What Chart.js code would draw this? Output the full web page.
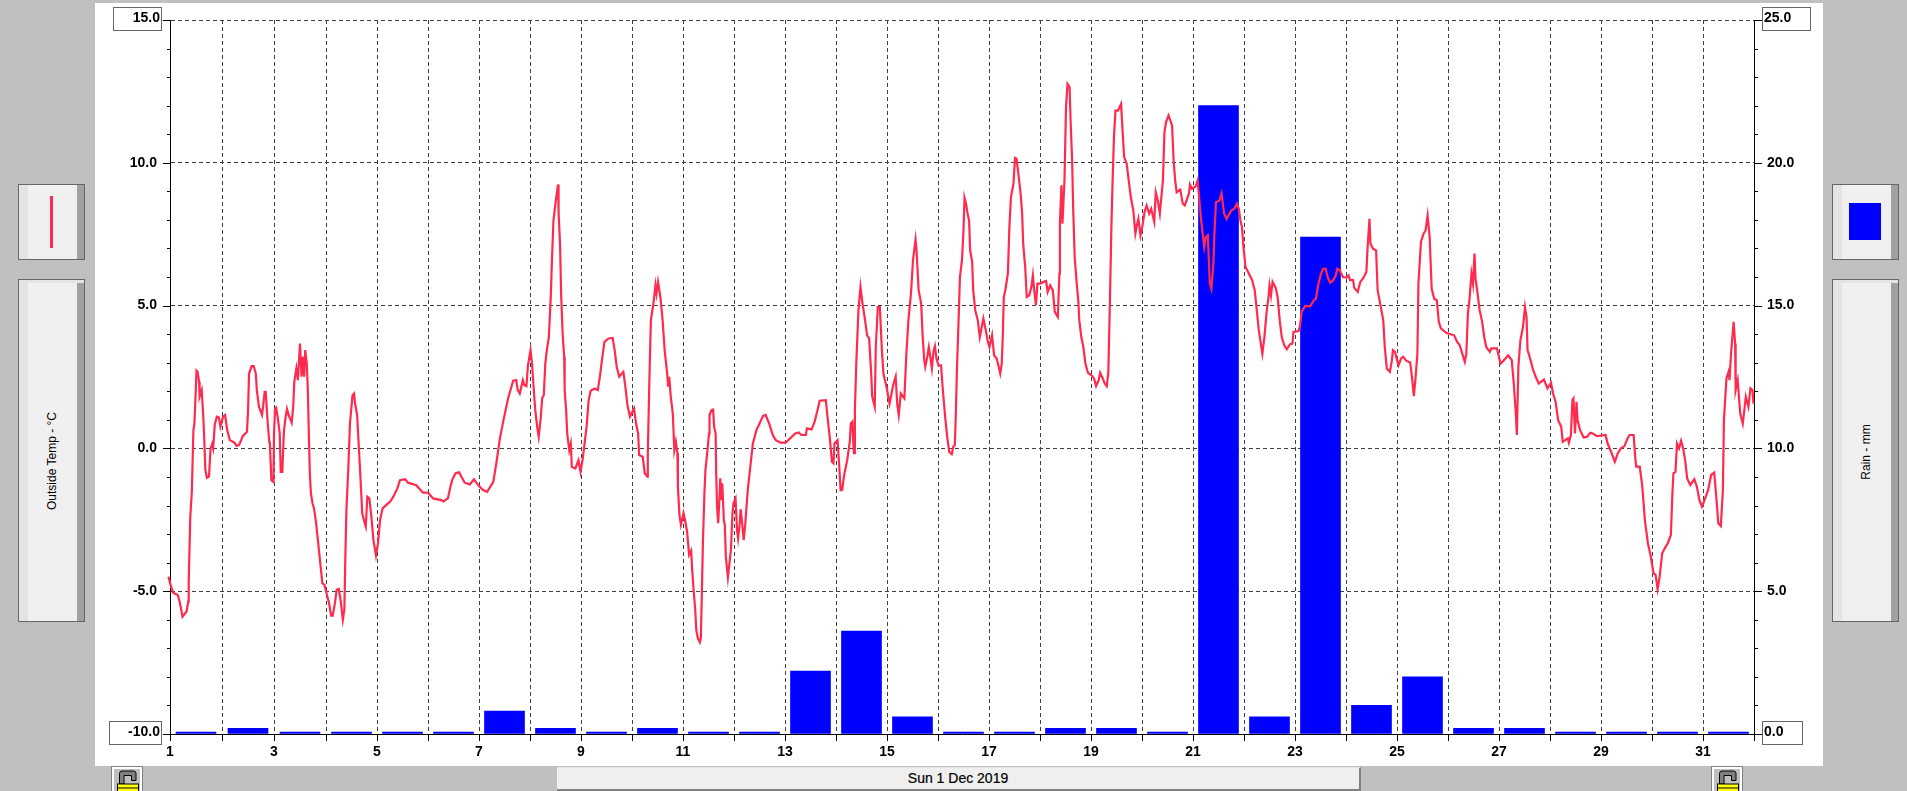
<!DOCTYPE html>
<html><head><meta charset="utf-8"><title>Outside Temp and Rain, December 2019</title>
<script src="https://cdn.jsdelivr.net/npm/chart.js@4/dist/chart.umd.js"></script>
<style>
html,body{margin:0;padding:0;width:1907px;height:791px;overflow:hidden;background:#c0c0c0;font-family:"Liberation Sans",Arial,sans-serif;color:#000}
.abs{position:absolute;box-sizing:border-box}
#panel{left:95px;top:3px;width:1728px;height:763px;background:#fff}
canvas{position:absolute;left:0;top:0}
.btn{background:#f0f0f0;border:1px solid #666}
.btn i{position:absolute;top:0;bottom:0;display:block}
.lightL{left:0;width:9px;background:#e4e4e4}
.darkR{right:0;width:7px;background:#a0a0a0}
.strip{left:0;right:0;top:0;height:3px;background:#e4e4e4;position:absolute}
.side{position:absolute;white-space:nowrap;font-size:12px;transform:translate(-50%,-50%) rotate(-90deg)}
.box{border:1px solid #666;height:24px}
.limit{position:absolute;font:bold 14px "Liberation Sans",Arial,sans-serif;line-height:14px;white-space:nowrap}
#date{left:557px;top:767px;width:804px;height:24px;background:#efefef;border-top:1px solid #e4e4e4;border-right:2px solid #808080;border-bottom:2px solid #808080;text-align:center;font-size:14px;line-height:21px;-webkit-text-stroke:.2px #000}
</style></head><body>
<div class="abs" id="panel"></div>

<div class="abs btn" style="left:18px;top:184px;width:67px;height:76px"><i class="lightL"></i><i class="darkR"></i>
  <div class="abs" id="tempSwatch" style="left:31px;top:11px;width:3px;height:52px"></div></div>
<div class="abs btn" style="left:18px;top:279px;width:67px;height:343px"><i class="lightL"></i><i class="darkR"></i><div class="strip"></div>
  <div class="side" style="left:33px;top:181px" id="tempTitle"></div></div>

<div class="abs btn" style="left:1832px;top:184px;width:67px;height:76px"><i class="lightL"></i><i class="darkR"></i>
  <div class="abs" style="left:16px;top:18px;width:32px;height:37px;background:#0000ff"></div></div>
<div class="abs btn" style="left:1832px;top:279px;width:67px;height:343px"><i class="lightL"></i><i class="darkR"></i><div class="strip"></div>
  <div class="side" style="left:33px;top:172px" id="rainTitle"></div></div>

<div class="abs" id="date"></div>

<svg class="abs" style="left:111px;top:766px" width="33" height="25" viewBox="0 0 33 25">
  <rect x=".5" y=".5" width="31" height="26" fill="#fff" stroke="#808080"/>
  <rect x="3" y="3" width="26" height="24" fill="#c0c0c0"/>
  <path d="M8.500 18V7.500Q8.500 5 11 5H22.500Q25 5 25 7.500V14.500H20.500V9.500H13V18Z" fill="#808080" stroke="#000" stroke-width="1"/>
  <rect x="6.500" y="18" width="21" height="8" fill="#ffff00" stroke="#000"/><rect x="7" y="21.500" width="20" height="1" fill="#000"/>
</svg>
<svg class="abs" style="left:1711px;top:766px" width="33" height="25" viewBox="0 0 33 25">
  <rect x=".5" y=".5" width="31" height="26" fill="#fff" stroke="#808080"/>
  <rect x="3" y="3" width="26" height="24" fill="#c0c0c0"/>
  <path d="M8.500 18V7.500Q8.500 5 11 5H22.500Q25 5 25 7.500V14.500H20.500V9.500H13V18Z" fill="#808080" stroke="#000" stroke-width="1"/>
  <rect x="6.500" y="18" width="21" height="8" fill="#ffff00" stroke="#000"/><rect x="7" y="21.500" width="20" height="1" fill="#000"/>
</svg>

<canvas id="c" width="1907" height="791"></canvas>

<div class="abs box" style="left:113px;top:7px;width:49px"></div>
<div class="abs box" style="left:109px;top:721px;width:53px"></div>
<div class="abs box" style="left:1762px;top:7px;width:49px"></div>
<div class="abs box" style="left:1762px;top:721px;width:41px"></div>
<div class="limit" id="tempTop" style="right:1747px;top:10px"></div>
<div class="limit" id="tempBottom" style="right:1747px;top:724px"></div>
<div class="limit" id="rainTop" style="left:1764px;top:10px"></div>
<div class="limit" id="rainBottom" style="left:1764px;top:724px"></div>

<script>
// ---- values ----
const dateLabel = "Sun 1 Dec 2019";
const tempTitle = "Outside Temp - °C";
const rainTitle = "Rain - mm";
const tempRange = [-10, 15];
const rainRange = [0, 25];
const dayRange = [1, 32];
const tempLabelled = [-5, 0, 5, 10];
const rainLabelled = [5, 10, 15, 20];
const tempColor = "#ff2a4d";
const rainColor = "#0000ff";

const rainDays = [1,2,3,4,5,6,7,8,9,10,11,12,13,14,15,16,17,18,19,20,21,22,23,24,25,26,27,28,29,30,31];
const rainValues = [0,0.2,0,0,0,0,0.8,0.2,0,0.2,0,0,2.2,3.6,0.6,0,0,0.2,0.2,0,22,0.6,17.4,1,2,0.2,0.2,0,0,0,0];

const tempDays = [
0.97,1.02,1.06,1.15,1.19,1.24,1.32,1.35,1.36,1.39,1.42,1.45,1.47,1.51,1.53,1.56,1.57,1.61,1.64,1.66,1.68,1.71,1.75,1.78,1.81,1.83,1.86,1.90,1.94,
1.97,2.02,2.06,2.10,2.15,2.24,2.28,2.33,2.40,2.48,2.50,2.52,2.57,2.61,2.65,2.67,2.71,2.77,2.79,2.82,2.84,2.88,2.91,2.92,2.95,2.99,3.00,3.02,3.04,3.07,3.11,3.13,3.16,3.19,3.22,3.25,3.28,3.34,3.37,3.39,3.43,3.46,3.50,3.53,3.55,3.58,3.60,3.63,3.65,3.67,3.69,3.71,3.74,3.77,3.81,3.85,3.89,3.93,
3.97,4.01,4.06,4.10,4.13,4.17,4.21,4.25,4.29,4.33,4.36,4.38,4.40,4.44,4.47,4.49,4.52,4.55,4.57,4.61,4.64,4.68,4.71,4.75,4.78,4.81,4.85,4.89,4.93,4.98,5.02,5.06,5.11,5.19,5.26,5.32,5.40,5.45,5.55,5.61,5.77,5.90,6.00,6.10,6.26,6.30,6.39,6.44,6.48,6.54,6.61,6.72,6.82,6.90,7.00,7.08,7.16,7.28,7.34,7.41,7.48,7.57,7.67,7.73,7.76,7.80,7.86,7.89,7.93,7.96,
8.01,8.04,8.07,8.10,8.14,8.17,8.21,8.24,8.27,8.30,8.33,8.37,8.41,8.43,8.46,8.51,8.55,8.56,8.59,8.61,8.64,8.67,8.68,8.71,8.73,8.77,8.80,8.82,8.89,8.95,8.99,
9.03,9.07,9.11,9.15,9.19,9.27,9.33,9.37,9.42,9.46,9.54,9.62,9.66,9.70,9.75,9.83,9.87,9.91,9.96,
10.04,10.08,10.12,10.14,10.21,10.25,10.30,10.31,10.34,10.37,10.42,10.46,10.48,10.51,10.56,10.60,10.64,10.69,10.71,10.73,10.76,10.80,10.83,10.86,10.89,10.90,10.93,10.96,
11.01,11.04,11.08,11.12,11.16,11.18,11.21,11.24,11.26,11.29,11.33,11.35,11.37,11.39,11.42,11.44,11.48,11.51,11.52,11.56,11.59,11.61,11.64,11.65,11.67,11.69,11.72,11.73,11.76,11.77,11.80,11.82,11.84,11.88,11.90,11.94,11.97,11.99,
12.03,12.06,12.08,12.11,12.13,12.16,12.19,12.22,12.24,12.27,12.32,12.37,12.44,12.50,12.57,12.62,12.69,12.76,12.82,12.91,
13.01,13.10,13.20,13.27,13.32,13.41,13.43,13.52,13.58,13.63,13.68,13.80,13.84,13.88,13.92,13.95,13.97,
14.03,14.06,14.09,14.12,14.16,14.22,14.27,14.29,14.32,14.35,14.36,14.37,14.40,14.44,14.48,14.52,14.57,14.61,14.65,14.69,14.71,14.76,14.78,14.82,14.86,14.90,14.93,14.99,
15.05,15.12,15.17,15.20,15.23,15.27,15.34,15.38,15.42,15.47,15.51,15.56,15.58,15.62,15.67,15.70,15.73,15.75,15.79,15.82,15.84,15.88,15.91,15.94,15.97,
16.01,16.06,16.09,16.12,16.14,16.18,16.22,16.27,16.30,16.33,16.35,16.37,16.41,16.43,16.47,16.50,16.52,16.55,16.58,16.61,16.63,16.67,16.69,16.73,16.78,16.82,16.89,16.93,16.98,
17.01,17.06,17.10,17.15,17.19,17.22,17.25,17.27,17.29,17.32,17.37,17.40,17.43,17.48,17.51,17.54,17.58,17.62,17.65,17.67,17.71,17.74,17.79,17.83,17.86,17.88,17.92,17.95,
18.00,18.07,18.12,18.15,18.20,18.25,18.29,18.35,18.38,18.39,18.42,18.44,18.48,18.51,18.54,18.58,18.60,18.63,18.65,18.68,18.72,18.75,18.77,18.81,18.85,18.89,18.94,
19.01,19.06,19.10,19.15,19.18,19.23,19.27,19.31,19.34,19.37,19.40,19.42,19.45,19.48,19.53,19.59,19.62,19.65,19.70,19.74,19.78,19.83,19.87,19.90,19.93,19.97,
20.01,20.05,20.09,20.14,20.18,20.24,20.27,20.31,20.35,20.41,20.44,20.47,20.52,20.59,20.62,20.65,20.68,20.75,20.80,20.84,20.92,20.94,20.98,
21.05,21.09,21.12,21.16,21.22,21.25,21.29,21.33,21.36,21.40,21.42,21.45,21.52,21.56,21.61,21.66,21.75,21.81,21.86,21.90,21.93,21.96,21.99,
22.03,22.08,22.16,22.21,22.25,22.29,22.36,22.40,22.44,22.48,22.50,22.53,22.56,22.62,22.66,22.70,22.74,22.79,22.84,22.90,22.95,22.97,
23.07,23.10,23.13,23.20,23.30,23.37,23.41,23.46,23.51,23.55,23.60,23.64,23.69,23.75,23.80,23.83,23.88,23.94,
24.01,24.05,24.08,24.14,24.16,24.23,24.28,24.33,24.40,24.42,24.46,24.48,24.53,24.59,24.62,24.67,24.73,24.76,24.80,24.86,24.90,24.92,24.96,
25.03,25.08,25.12,25.18,25.26,25.30,25.33,25.36,25.40,25.42,25.47,25.52,25.56,25.60,25.64,25.68,25.73,25.78,25.82,25.86,25.97,
26.12,26.18,26.23,26.28,26.33,26.36,26.39,26.42,26.46,26.49,26.52,26.54,26.58,26.62,26.67,26.71,26.75,26.82,26.85,26.96,
27.03,27.08,27.18,27.25,27.29,27.33,27.35,27.38,27.42,27.47,27.51,27.54,27.56,27.61,27.67,27.72,27.78,27.88,27.95,
28.02,28.06,28.11,28.16,28.22,28.25,28.35,28.37,28.41,28.44,28.46,28.49,28.52,28.54,28.59,28.66,28.73,28.79,28.84,28.92,
29.09,29.13,29.21,29.27,29.33,29.39,29.46,29.51,29.56,29.64,29.67,29.69,29.76,29.81,29.86,29.92,29.97,
30.03,30.07,30.11,30.15,30.20,30.25,30.31,30.37,30.40,30.42,30.46,30.49,30.53,30.57,30.61,30.65,30.69,30.75,30.83,30.88,30.93,30.98,
31.03,31.10,31.16,31.22,31.26,31.30,31.35,31.39,31.41,31.46,31.50,31.52,31.55,31.60,31.63,31.64,31.68,31.73,31.78,31.84,31.89,31.93,31.97,31.99];

const tempValues = [
-4.49,-4.84,-5.05,-5.13,-5.40,-5.89,-5.71,-5.36,-4.66,-2.39,-1.52,0.64,0.87,2.72,2.68,2.33,1.81,2.04,1.11,0.29,-0.76,-1.03,-0.99,0,0.15,0,0.82,1.11,1.08,
0.76,1.11,1.17,0.64,0.29,0.20,0.09,0.12,0.43,0.58,1.28,2.62,2.88,2.88,2.62,2.04,1.46,1.17,1.46,1.98,1.98,0.87,0.23,0.17,-1.11,-1.17,0.47,1.40,1.43,1.11,0.52,-0.82,-0.82,0.58,1.05,1.38,1.17,0.90,1.48,2.33,2.80,2.39,3.67,2.51,3.21,2.51,3.44,2.97,2.10,0.52,-0.93,-1.57,-1.92,-2.10,-2.62,-3.32,-4.02,-4.72,
-4.78,-5.07,-5.42,-5.86,-5.86,-5.48,-4.95,-4.92,-5.36,-6.00,-5.65,-3.73,-2.16,-0.58,0.87,1.28,1.86,1.92,1.57,1.17,0.17,-1.17,-2.27,-2.56,-2.74,-1.69,-1.75,-2.39,-3.21,-3.75,-3.32,-2.51,-2.10,-1.97,-1.86,-1.69,-1.40,-1.11,-1.08,-1.20,-1.29,-1.55,-1.55,-1.75,-1.81,-1.86,-1.75,-1.34,-1.08,-0.87,-0.84,-1.20,-1.26,-1.08,-1.32,-1.46,-1.52,-1.17,-0.52,0.35,0.99,1.75,2.37,2.39,2.04,1.92,2.39,2.21,2.18,2.91,
3.44,2.97,2.16,1.40,0.76,0.41,1.05,1.78,1.86,2.97,3.44,3.90,5.42,6.59,7.98,8.74,9.24,8.28,7.11,5.42,4.02,3.21,2.04,1.28,0.52,-0.06,0.17,-0.64,-0.70,-0.41,-0.82,
-0.41,0.17,0.76,1.69,2.02,2.10,2.04,2.51,3.21,3.73,3.85,3.87,3.44,2.86,2.51,2.68,2.16,1.52,1.11,
1.40,0.87,0.52,-0.23,-0.29,-0.87,-0.99,-0.17,2.33,4.49,5.07,5.71,5.42,5.83,5.24,4.49,3.44,2.62,2.16,2.51,1.81,1.22,-0.06,0.23,-0.17,-1.34,-2.33,-2.68,
-2.27,-2.51,-2.91,-3.73,-3.58,-4.25,-5.01,-5.65,-6.35,-6.64,-6.79,-6.64,-5.07,-3.32,-1.57,-0.76,-0.06,0.52,1.17,1.34,1.36,0.76,0.52,-0.82,-2.10,-2.62,-1.57,-1.05,-1.81,-1.22,-2.51,-2.68,-3.79,-4.52,-4.20,-3.55,-2.27,-1.92,
-1.75,-2.86,-3.15,-2.68,-2.13,-2.62,-3.21,-2.68,-2.16,-1.46,-0.64,0.17,0.64,0.87,1.14,1.17,0.87,0.47,0.29,0.20,
0.20,0.35,0.52,0.56,0.47,0.47,0.70,0.66,0.93,1.28,1.67,1.69,0.99,0.35,-0.47,-0.52,0.17,
0.29,-0.52,-1.46,-1.46,-0.93,-0.41,0.23,0.87,0.93,-0.17,-0.17,1.34,3.09,4.84,5.65,5.07,4.49,3.96,3.85,2.62,1.81,1.46,3.55,4.95,4.95,3.44,2.62,2.16,
1.57,2.21,2.51,1.57,1.17,1.92,1.75,3.32,4.49,5.42,6.59,7.32,6.93,5.54,5.07,3.90,3.09,2.86,3.21,3.55,3.32,2.80,3.38,3.58,3.15,
2.91,2.91,2.16,1.52,1.11,0.41,-0.12,-0.20,0.06,0.12,1.22,2.68,4.84,6.00,6.59,7.63,8.78,8.57,8.22,7.98,6.93,6.53,5.54,4.84,4.49,3.90,4.55,4.20,3.73,
3.55,3.96,3.26,3.15,2.86,2.62,2.97,3.90,5.30,5.54,6.12,7.75,8.80,9.27,10.17,10.14,9.56,8.92,8.22,7.17,6.35,5.30,5.36,5.65,6.06,5.65,5.02,5.77,
5.77,5.83,5.86,5.48,5.71,5.54,4.78,4.60,6.12,7.87,9.21,7.87,9.38,11.95,12.76,12.65,11.48,10.08,8.45,6.70,5.77,5.19,4.49,3.90,3.55,2.97,2.65,
2.56,2.45,2.18,2.39,2.65,2.45,2.27,2.18,2.68,5.07,7.75,9.15,10.90,11.83,11.83,12.06,11.07,10.20,9.97,9.38,8.80,8.33,7.52,7.81,8.04,7.46,
7.81,8.28,8.51,8.22,8.39,7.93,8.97,8.68,8.22,9.38,11.07,11.42,11.66,11.31,10.08,9.38,8.97,9.06,8.57,8.51,8.92,9.24,9.09,
9.17,9.38,8.80,7.98,7.05,7.40,7.46,5.77,5.59,6.47,7.52,8.62,8.68,8.92,8.22,8.04,8.33,8.39,8.57,8.39,7.98,7.75,7.05,
6.35,6.18,5.89,5.54,4.84,4.14,3.32,3.90,4.72,5.30,5.71,5.36,5.83,5.63,5.30,4.49,3.90,3.61,3.47,3.64,3.67,4.08,
4.11,4.31,4.78,4.99,4.98,5.19,5.24,5.77,6.12,6.29,6.29,6.00,5.80,5.89,6.06,6.29,6.24,6.00,
5.98,6.06,5.89,5.89,5.63,5.48,5.83,5.94,6.18,6.93,8.04,7.17,6.99,6.93,5.54,5.07,4.49,3.55,2.80,2.68,3.09,3.44,3.38,
2.91,3.15,3.21,3.07,3.01,2.39,1.83,2.39,3.32,5.77,7.23,7.52,7.63,8.16,7.40,5.59,5.24,5.19,4.43,4.20,4.04,
3.96,3.73,3.61,3.32,3.03,3.32,4.72,5.19,6.12,5.77,6.82,5.94,5.42,4.84,4.43,3.90,3.55,3.38,3.50,3.50,
2.97,3.05,3.26,3.09,2.27,1.22,0.47,2.86,3.79,4.25,4.95,4.60,3.44,3.15,2.74,2.51,2.27,2.41,2.10,
2.30,1.92,1.63,0.99,0.76,0.23,0.35,0.20,0.47,1.69,1.75,0.52,1.63,0.99,0.64,0.38,0.41,0.55,0.52,0.43,
0.47,0.17,-0.17,-0.47,-0.17,0,0.08,0.31,0.47,0.47,-0.29,-0.64,-0.64,-1.34,-2.51,-3.32,-3.73,
-4.37,-4.43,-4.93,-4.49,-3.67,-3.50,-3.32,-3.03,-1.57,-0.87,-0.82,0.17,0,0.27,0,-0.41,-1.05,-1.28,-1.08,-1.34,-1.81,-2.04,
-1.81,-1.46,-0.93,-0.85,-1.69,-2.62,-2.72,-1.46,0.99,2.45,2.68,2.39,3.32,4.43,3.67,2.04,2.39,1.22,0.87,1.81,1.46,2.10,2.04,1.57];
// ---------------------------------------

document.getElementById('date').textContent = dateLabel;
document.getElementById('tempTitle').textContent = tempTitle;
document.getElementById('rainTitle').textContent = rainTitle;
document.getElementById('tempSwatch').style.background = tempColor;
document.getElementById('tempTop').textContent = tempRange[1].toFixed(1);
document.getElementById('tempBottom').textContent = tempRange[0].toFixed(1);
document.getElementById('rainTop').textContent = rainRange[1].toFixed(1);
document.getElementById('rainBottom').textContent = rainRange[0].toFixed(1);

// the original's day axis: the first three days are one pixel wider than the rest
class DayScale extends Chart.LinearScale {
  getPixelForValue(v) {
    return v <= 4 ? this.left + (v - 1) * 52 : this.right - (32 - v) * 51;
  }
}
DayScale.id = 'dayScale';
DayScale.defaults = Chart.LinearScale.defaults;
Chart.register(DayScale);

const axisFont = {family: '"Liberation Sans", Arial, sans-serif', size: 14, weight: 'bold'};
const gridDash = [4, 3];
const noEdgePadding = s => { s.paddingTop = 0; s.paddingBottom = 0; s.paddingLeft = 0; s.paddingRight = 0; };

const yTickMarks = {
  id: 'yTickMarks',
  afterDraw(chart) {
    const c = chart.ctx;
    c.save();
    c.strokeStyle = '#000';
    c.lineWidth = 1;
    for (const t of chart.scales.y.ticks) {
      const y = Math.round(chart.scales.y.getPixelForValue(t.value)) + .5;
      const len = t.value % 5 === 0 ? 7 : 3;
      c.beginPath(); c.moveTo(chart.chartArea.left - len, y); c.lineTo(chart.chartArea.left, y); c.stroke();
    }
    for (const t of chart.scales.yRain.ticks) {
      const y = Math.round(chart.scales.yRain.getPixelForValue(t.value)) + .5;
      const len = t.value % 5 === 0 ? 8 : 4;
      c.beginPath(); c.moveTo(chart.chartArea.right, y); c.lineTo(chart.chartArea.right + len, y); c.stroke();
    }
    c.restore();
  }
};

new Chart(document.getElementById('c'), {
  type: 'line',
  data: {
    datasets: [
      {type: 'line', label: tempTitle, xAxisID: 'x', yAxisID: 'y', order: 1,
       data: tempDays.map((d, i) => ({x: d, y: tempValues[i]})),
       borderColor: tempColor, borderWidth: 2.2, pointRadius: 0, tension: 0, clip: false, borderJoinStyle: 'miter'},
      {type: 'bar', label: rainTitle, xAxisID: 'x', yAxisID: 'yRain', order: 2,
       data: rainDays.map((d, i) => ({x: d + .5, y: rainValues[i]})),
       backgroundColor: rainColor, borderWidth: 0, barThickness: 40, minBarLength: 2}
    ]
  },
  options: {
    responsive: false, animation: false, events: [],
    layout: {padding: {left: 0, right: 0, top: 20, bottom: 0}},
    plugins: {legend: {display: false}, tooltip: {enabled: false}},
    scales: {
      x: {
        type: 'dayScale', position: 'bottom', min: dayRange[0], max: dayRange[1], offset: false,
        afterFit(s) { s.height = 57; noEdgePadding(s); },
        border: {display: true, color: '#000', width: 1, dash: gridDash},
        grid: {offset: false, drawOnChartArea: true, drawTicks: true, tickLength: 7, tickColor: '#000', tickBorderDash: [],
               color: c => (c.tick && (c.tick.value === dayRange[0] || c.tick.value === dayRange[1])) ? 'transparent' : '#404040'},
        ticks: {stepSize: 1, autoSkip: false, maxRotation: 0, minRotation: 0, padding: 3, color: '#000', font: axisFont,
                callback: v => v % 2 === 1 && v < dayRange[1] ? String(v) : ''}
      },
      y: {
        type: 'linear', position: 'left', min: tempRange[0], max: tempRange[1],
        afterFit(s) { s.width = 170; noEdgePadding(s); },
        border: {display: true, color: '#000', width: 1, dash: gridDash},
        grid: {drawTicks: false,
               color: c => (c.tick && c.tick.value % 5 === 0 && c.tick.value !== tempRange[0]) ? '#404040' : 'transparent'},
        ticks: {stepSize: 1, autoSkip: false, padding: 13, color: '#000', font: axisFont,
                callback: v => tempLabelled.includes(v) ? v.toFixed(1) : ''}
      },
      yRain: {
        type: 'linear', position: 'right', min: rainRange[0], max: rainRange[1],
        afterFit(s) { s.width = 153; noEdgePadding(s); },
        border: {display: true, color: '#000', width: 1},
        grid: {drawOnChartArea: false, drawTicks: false},
        ticks: {stepSize: 1, autoSkip: false, padding: 13, color: '#000', font: axisFont,
                callback: v => rainLabelled.includes(v) ? v.toFixed(1) : ''}
      }
    }
  },
  plugins: [yTickMarks]
});
</script>
</body></html>
